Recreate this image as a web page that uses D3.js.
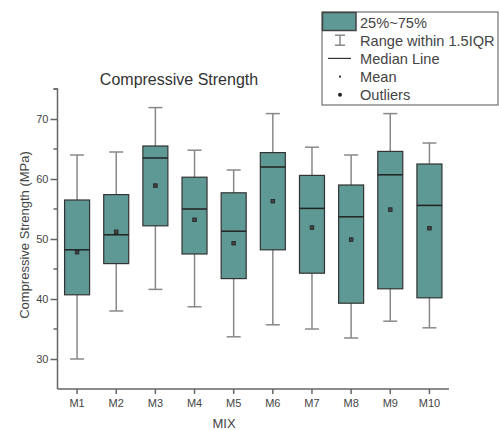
<!DOCTYPE html>
<html>
<head>
<meta charset="utf-8">
<script src="https://cdn.jsdelivr.net/npm/d3@7"></script>
<style>
  body { margin: 0; background: #fff; }
  text { font-family: Arial, "Liberation Sans", sans-serif; }
</style>
</head>
<body>
<div id="chart"></div>
<script>
// box stats (MPa)
const mixes = ["M1", "M2", "M3", "M4", "M5", "M6", "M7", "M8", "M9", "M10"]
const whiskerLow = [30.0, 38.0, 41.6, 38.7, 33.7, 35.7, 35.0, 33.5, 36.3, 35.2]
const q1 = [40.7, 45.9, 52.2, 47.5, 43.4, 48.2, 44.3, 39.3, 41.7, 40.2]
const median = [48.2, 50.7, 63.5, 55.0, 51.3, 62.0, 55.1, 53.7, 60.7, 55.6]
const q3 = [56.5, 57.4, 65.5, 60.3, 57.7, 64.4, 60.6, 59.0, 64.6, 62.5]
const whiskerHigh = [64.0, 64.5, 71.9, 64.8, 61.5, 70.9, 65.3, 64.0, 70.9, 66.0]
const mean = [47.8, 51.2, 58.9, 53.2, 49.3, 56.3, 51.9, 49.9, 54.9, 51.8]
const yTicks = [30, 40, 50, 60, 70]
const yMinorTicks = [35, 45, 55, 65, 75]
const legendLabels = ["25%~75%", "Range within 1.5IQR", "Median Line", "Mean", "Outliers"]

const width = 499, height = 430
const fillCol = "#5f9995", boxLine = "#333", whiskCol = "#888", axisCol = "#666", textCol = "#444"

const boxes = mixes.map((m, i) => ({
  mix: m, lo: whiskerLow[i], q1: q1[i], med: median[i], q3: q3[i], hi: whiskerHigh[i], mean: mean[i]
}))

const svg = d3.select("#chart").append("svg")
  .attr("width", width)
  .attr("height", height)

const xScale = d3.scaleBand()
  .domain(mixes)
  .range([57.5, 449])
  .padding(0)

const yScale = d3.scaleLinear()
  .domain([25, 75])
  .range([389, 89])

const boxW = 25

/* whiskers first so the box covers them */
const g = svg.selectAll(".box")
  .data(boxes)
  .enter().append("g")
  .attr("class", "box")
  .attr("transform", d => `translate(${xScale(d.mix) + xScale.bandwidth() / 2},0)`)

g.append("line")
  .attr("x1", 0).attr("x2", 0)
  .attr("y1", d => yScale(d.lo)).attr("y2", d => yScale(d.hi))
  .attr("stroke", whiskCol).attr("stroke-width", 1.5)

g.selectAll(".cap")
  .data(d => [d.lo, d.hi])
  .enter().append("line")
  .attr("class", "cap")
  .attr("x1", -7).attr("x2", 7)
  .attr("y1", v => yScale(v)).attr("y2", v => yScale(v))
  .attr("stroke", whiskCol).attr("stroke-width", 1.5)

g.append("rect")
  .attr("x", -boxW / 2)
  .attr("width", boxW)
  .attr("y", d => yScale(d.q3))
  .attr("height", d => yScale(d.q1) - yScale(d.q3))
  .attr("fill", fillCol)
  .attr("stroke", boxLine).attr("stroke-width", 1.2)

g.append("line")
  .attr("x1", -boxW / 2).attr("x2", boxW / 2)
  .attr("y1", d => yScale(d.med)).attr("y2", d => yScale(d.med))
  .attr("stroke", "#222").attr("stroke-width", 1.5)

g.append("rect")
  .attr("x", -1.8).attr("width", 3.6)
  .attr("y", d => yScale(d.mean) - 1.8).attr("height", 3.6)
  .attr("fill", "#444").attr("stroke", "#222").attr("stroke-width", 0.8)

/* axes */
const yAxis = d3.axisLeft(yScale).tickValues(yTicks).tickSize(7).tickPadding(2)
const yAx = svg.append("g")
  .attr("class", "y-axis")
  .attr("transform", "translate(57.5,0)")
  .call(yAxis)
yAx.select(".domain").attr("d", `M-4,${yScale(75)}H0V${yScale(25)}`)
yAx.selectAll(".minor")
  .data(yMinorTicks)
  .enter().append("line")
  .attr("class", "minor")
  .attr("x1", -4).attr("x2", 0)
  .attr("y1", v => yScale(v)).attr("y2", v => yScale(v))

const xAxis = d3.axisBottom(xScale).tickSize(5).tickPadding(5)
const xAx = svg.append("g")
  .attr("class", "x-axis")
  .attr("transform", "translate(0,389)")
  .call(xAxis)
xAx.select(".domain").attr("d", "M57.5,0H449")

svg.selectAll(".domain, .tick line, .minor")
  .attr("stroke", axisCol).attr("stroke-width", 1.5)
svg.selectAll(".tick text")
  .attr("fill", textCol)
  .style("font-size", "11px")

/* titles */
svg.append("text")
  .attr("x", 179).attr("y", 85)
  .attr("text-anchor", "middle")
  .attr("fill", "#333")
  .style("font-size", "16px")
  .text("Compressive Strength")

svg.append("text")
  .attr("transform", "translate(29,235) rotate(-90)")
  .attr("text-anchor", "middle")
  .attr("fill", textCol)
  .style("font-size", "13px")
  .text("Compressive Strength (MPa)")

svg.append("text")
  .attr("x", 224).attr("y", 428)
  .attr("text-anchor", "middle")
  .attr("fill", textCol)
  .style("font-size", "13px")
  .text("MIX")

/* legend */
const lg = svg.append("g").attr("transform", "translate(322,12)")
lg.append("rect")
  .attr("x", 0).attr("y", 0).attr("width", 176).attr("height", 93)
  .attr("fill", "#fff").attr("stroke", "#555").attr("stroke-width", 1)

const rowY = i => 10 + i * 18.2
lg.selectAll(".lab")
  .data(legendLabels)
  .enter().append("text")
  .attr("class", "lab")
  .attr("x", 38)
  .attr("y", (d, i) => rowY(i) + 5.5)
  .attr("fill", textCol)
  .style("font-size", "14.6px")
  .text(d => d)

lg.append("rect")
  .attr("x", 0.5).attr("y", 0.5).attr("width", 33.5).attr("height", 18)
  .attr("fill", fillCol).attr("stroke", "#444").attr("stroke-width", 1.5)
// range icon
lg.append("line").attr("x1", 18).attr("x2", 18).attr("y1", rowY(1) - 5).attr("y2", rowY(1) + 5)
  .attr("stroke", whiskCol).attr("stroke-width", 1.5)
lg.selectAll(".rcap").data([-5, 5]).enter().append("line")
  .attr("x1", 13).attr("x2", 23)
  .attr("y1", o => rowY(1) + o).attr("y2", o => rowY(1) + o)
  .attr("stroke", whiskCol).attr("stroke-width", 1.5)
lg.append("line").attr("x1", 6).attr("x2", 29).attr("y1", rowY(2)).attr("y2", rowY(2))
  .attr("stroke", "#333").attr("stroke-width", 1.2)
lg.append("rect").attr("x", 17).attr("y", rowY(3) - 1).attr("width", 2).attr("height", 2).attr("fill", "#333")
lg.append("circle").attr("cx", 18).attr("cy", rowY(4)).attr("r", 2).attr("fill", "#222")
</script>
</body>
</html>
